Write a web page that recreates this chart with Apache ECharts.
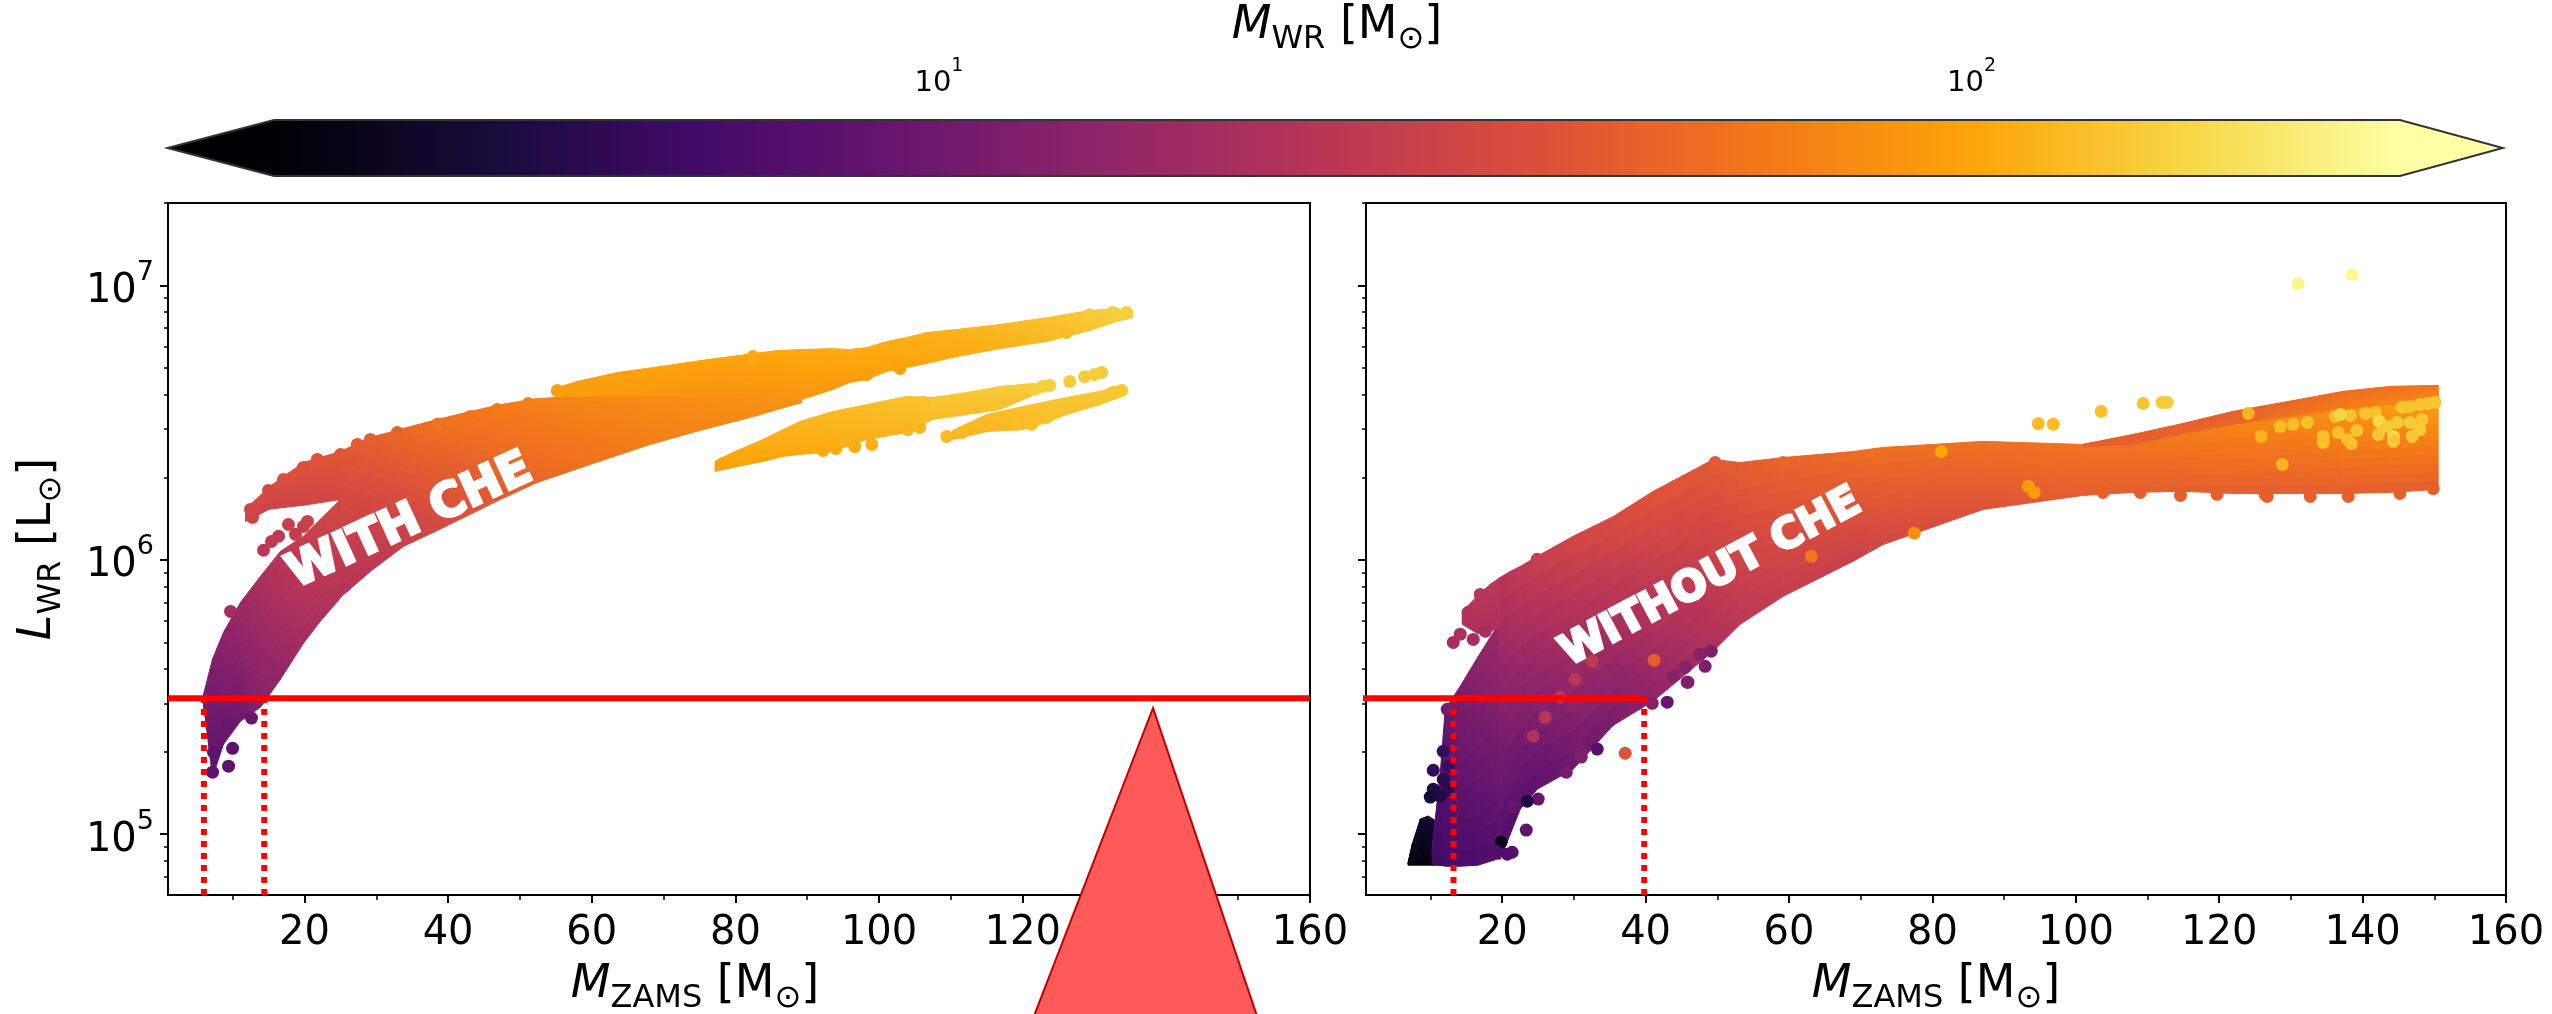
<!DOCTYPE html>
<html><head><meta charset="utf-8">
<script src="https://cdn.jsdelivr.net/npm/echarts@6/dist/echarts.min.js"></script>
<style>html,body{margin:0;padding:0;background:#fff}#c{width:2552px;height:1014px}</style>
</head><body><div id="c"></div>
<script>
// ---------- axis values ----------
const xRange = [1, 160];
const yRange = [6e4, 2e7];
const xMajor = [20, 40, 60, 80, 100, 120, 140, 160];
const xMinor = [10, 30, 50, 70, 90, 110, 130, 150];
const yMajor = [1e5, 1e6, 1e7];
const yMinor = [7e4, 8e4, 9e4, 2e5, 3e5, 4e5, 5e5, 6e5, 7e5, 8e5, 9e5, 2e6, 3e6, 4e6, 5e6, 6e6, 7e6, 8e6, 9e6, 2e7];
const cbRange = [2.27, 260];
const cbTips = [1.79, 327];
const cbMajor = [10, 100];
const cbMinor = [3, 4, 5, 6, 7, 8, 9, 20, 30, 40, 50, 60, 70, 80, 90, 200];
const inferno = ['#000004','#160b39','#420a68','#6a176e','#932667','#bc3754','#dd513a','#f37819','#fca50a','#f6d746','#fcffa4'];

// ---------- annotation values ----------
const cutLum = 3.13e5;
const cutLeftX = [6, 14.4];
const cutRightX = [13.2, 39.8];
const solidLeftX = [1, 160];
const solidRightX = [-6.8, 39.8];

// ---------- envelope of the dense point clouds: M_ZAMS, log L top, log L bottom, M_WR top, M_WR bottom ----------
const lMainX = [5.95,7.2,8.73,11.1,13.88,16.66,19.86,22.2,24.73,25,29.18,33.77,38.5,43.09,47.26,52.41,59.78,68.12,75.08,82.03,89.26];
const lMainT = [5.51,5.638,5.736,5.845,5.94,6.031,6.086,6.148,6.213,6.395,6.446,6.479,6.512,6.541,6.566,6.588,6.599,6.603,6.603,6.599,6.592];
const lMainB = [5.474,5.208,5.328,5.412,5.463,5.565,5.696,5.776,5.852,5.863,5.958,6.049,6.107,6.166,6.22,6.282,6.348,6.421,6.472,6.519,6.574];
const lMainMT = [11,12,14,17,20,24,28,31,34,42,47,53,58,62,65,70,74,78,80,82,84];
const lMainMB = [10,8,9,10,13,15,18,20,22,22,24,28,33,38,44,50,58,66,71,76,80];

const lLobeX = [11.8,12.5,15,17.08,19.86,25];
const lLobeT = [6.173,6.202,6.264,6.304,6.355,6.395];
const lLobeB = [6.14,6.148,6.184,6.191,6.199,6.22];
const lLobeMT = [32,33,36,38,40,42];
const lLobeMB = [30,30,30,31,31,33];

const lUpX = [55.19,57.97,63.53,68.54,76.05,81.61,85.79,89.26,93.57,95.94,98.3,101.08,103.87,106.65,110.82,116.8,123.34,129.32,133.07,135.3];
const lUpT = [6.628,6.65,6.683,6.701,6.73,6.749,6.763,6.767,6.77,6.767,6.774,6.796,6.811,6.829,6.84,6.858,6.883,6.909,6.916,6.902];
const lUpB = [6.596,6.596,6.599,6.599,6.596,6.592,6.588,6.585,6.621,6.647,6.658,6.687,6.701,6.716,6.741,6.77,6.796,6.836,6.869,6.883];
const lUpMT = [92,94,96,97,99,101,103,105,106,107,107,108,110,112,115,122,130,143,148,150];
const lUpMB = [92,92,90,88,83,84,84,86,90,92,94,98,100,102,106,112,122,135,142,146];

const lLowAX = [77.16,79.67,83.84,86.62,88.99,93.57,98.3,103.87,107.48,112.21,116.8,121.39];
const lLowAT = [6.359,6.392,6.439,6.475,6.505,6.541,6.566,6.596,6.592,6.61,6.632,6.643];
const lLowAB = [6.322,6.337,6.359,6.377,6.384,6.395,6.439,6.464,6.512,6.53,6.548,6.599];
const lLowAMT = [100,103,110,115,118,122,126,132,136,140,145,148];
const lLowAMB = [97,98,100,102,104,108,112,118,125,128,130,135];

const lLowBX = [110.26,114.99,120,123.34,126.12,130.71,133.91];
const lLowBT = [6.472,6.53,6.559,6.577,6.592,6.614,6.639];
const lLowBB = [6.439,6.468,6.475,6.501,6.53,6.566,6.596];
const lLowBMT = [118,125,130,135,138,140,142];
const lLowBMB = [115,118,122,126,130,134,138];

const rLumpX = [6.89,7.45,8.56,9.68,10.79,12.05];
const rLumpT = [4.898,4.964,5.055,5.066,5.047,4.945];
const rLumpB = [4.887,4.887,4.887,4.887,4.887,4.887];
const rLumpMT = [2.8,3,3.3,3.5,3.5,3.3];
const rLumpMB = [2.4,2.4,2.4,2.4,2.4,2.4];

const rMainX = [10.24,11.35,12.05,14.14,16.65,19.3,19.72,21.12,22.51,24.88,29.9,35.48,41.06,49.43,53.19,59.19,68.95,73.14,87.08,101.03,108,114.98,121.95,131.3,137.29,143.85,150.54];
const rMainT = [4.953,5.219,5.455,5.539,5.648,5.758,5.936,5.958,5.976,6.013,6.086,6.158,6.25,6.366,6.355,6.373,6.395,6.41,6.432,6.421,6.457,6.497,6.541,6.585,6.614,6.632,6.636];
const rMainB = [4.891,4.887,4.883,4.883,4.887,4.909,4.909,5,5.091,5.164,5.237,5.397,5.485,5.667,5.765,5.867,5.995,6.056,6.184,6.235,6.246,6.25,6.242,6.242,6.242,6.246,6.257];
const rMainMT = [7,7,9,12,14,17,23,25,26.5,29,33,37,41,44,46,50,55,57,58,59,62,70,78,85,95,105,105];
const rMainMB = [5.5,5.8,6,6.2,6.5,6.8,6.8,7,7.5,8,9.5,11,14,20,24,27,29,33,40,46,46,46,46,46,46,46,46];

const rLobeX = [14.42,16.51,18.33,19.72];
const rLobeT = [5.812,5.867,5.911,5.936];
const rLobeB = [5.765,5.732,5.74,5.754];
const rLobeMT = [22,23,24,24];
const rLobeMB = [20,20,20,21];

const rEdgeX = [101.03,108,114.98,121.95,131.3,137.29,143.85,150.54];
const rEdgeT = [6.421,6.457,6.497,6.541,6.585,6.614,6.632,6.636];
const rEdgeB = [6.413,6.421,6.461,6.494,6.53,6.548,6.566,6.577];
const rEdgeMT = [46,46,47,47,50,54,56,60];
const rEdgeMB = [46,47,48,50,60,66,72,75];

// ---------- individually visible points: M_ZAMS, log L, M_WR ----------
const leftPoints = [
[9.99,5.313,8],[9.43,5.248,8],[12.63,5.423,9],[7.2,5.226,8],[7.34,5.299,8],[9.71,5.812,19],[9.3,5.401,9],
[14.3,6.035,24],[15.41,6.067,25],[17.77,6.129,28],[20.42,6.14,30],[19.86,6.122,28],[18.75,6.093,27],[16.4,6.086,26],[12.77,6.155,31],[12.49,6.184,32],
[15,6.253,34],[17.08,6.293,36],[19.86,6.337,38],[21.8,6.366,40],[25,6.384,42],[27.37,6.421,44],
[29.18,6.439,46],[32.93,6.464,50],[38.5,6.494,58],[43.09,6.523,62],[46.84,6.548,65],[51.15,6.57,69],
[55.19,6.617,94],[134.47,6.902,150],[133.07,6.894,148],[98.3,6.676,95],[102.9,6.698,98],[126.12,6.829,125],
[82.45,6.741,104],[132.5,6.902,148],[129.32,6.894,146],[78.28,6.352,98],[99,6.421,110],[96.63,6.413,108],
[93.99,6.406,106],[92.18,6.399,104],[104,6.475,118],[105.67,6.483,120],[109.43,6.45,122],[111.52,6.464,125],
[119.17,6.494,128],[121.25,6.494,130],[123.34,6.519,132],[121.67,6.621,150],[122.78,6.632,148],[123.75,6.636,148],
[126.54,6.65,146],[128.62,6.668,146],[130.99,6.683,146],[130,6.676,146],[133.77,6.617,140],[132.52,6.61,140],[106.2,6.574,130]
];
const rightPoints = [
[103.8,6.246,47],[109,6.246,46],[114.6,6.235,47],[119.7,6.239,47],[126.4,6.239,47],[126.7,6.231,47],[132.7,6.231,47],[138,6.231,46],[145.2,6.242,47],[149.85,6.26,47],
[24.88,6.002,28],[49.7,6.355,44],[59.2,6.355,50],
[13.17,5.699,19],[14.14,5.729,20],[15.96,5.71,19],[17.63,5.74,19],[15.26,5.809,21],[15.8,5.776,21],[16.93,5.874,23],
[43.01,5.481,9],[45.8,5.554,11],[49.15,5.667,12],[47.6,5.656,13],[48.3,5.612,12],[45.9,5.554,12],[45.5,5.608,13],[43.85,5.576,13],[40.92,5.477,13],[38.83,5.477,13],
[33.25,5.31,7.5],[31.02,5.299,12],[31.02,5.281,12],[28.93,5.226,11],[25.02,5.128,9],[23.49,5.12,4],[21.53,5.098,9],[23.35,5.015,8],[19.86,4.971,3],[21.39,4.934,7.5],[19.02,4.938,7],[20.7,4.927,7],
[10.38,5.233,5],[11.77,5.302,5.2],[10.38,5.164,4],[9.96,5.135,3.5],[11.77,5.2,4.5],[11.35,5.138,4],[12.47,5.248,5.5],[12.47,5.164,4.5],[12.33,5.455,11],
[24.32,5.357,22],[26,5.426,23],[28.09,5.499,23],[30.18,5.565,24],[32.55,5.63,25],
[37.15,5.295,40],[41.2,5.634,45],[63.1,6.013,62],[77.46,6.097,80],[81.23,6.395,100],[93.36,6.268,90],[94.2,6.246,90],
[94.76,6.497,125],[96.85,6.494,125],[103.54,6.541,130],[109.4,6.57,135],[112.05,6.574,145],[112.75,6.574,145],
[124.05,6.534,115],[125.86,6.45,115],[128.8,6.348,115],[131.02,7.007,230],[138.55,7.04,240],
[128.5,6.486,125],[130.3,6.494,128],[132.3,6.501,130],[136.2,6.523,130],[138.3,6.526,132],[140.4,6.534,134],[141.8,6.537,130],[136.9,6.53,160],
[145.5,6.556,135],[146.6,6.559,135],[148,6.566,135],[149.1,6.57,138],[150.1,6.574,138],
[134.5,6.45,130],[134.5,6.428,130],[136.6,6.464,130],[139.2,6.472,135],[137.9,6.439,130],[138.4,6.424,130],[142.2,6.457,140],[142.3,6.505,165],
[144.3,6.45,165],[144.3,6.432,140],[146.9,6.45,140],[148.3,6.512,140],[148,6.475,145],[146.6,6.501,145],[144.8,6.501,145],[143.4,6.486,145]
];

// ---------- helpers ----------
const logMin = Math.log10(cbRange[0]), logMax = Math.log10(cbRange[1]);
function hex(c){return [1,3,5].map(i=>parseInt(c.substr(i,2),16));}
const infernoRGB = inferno.map(hex);
function massColor(m){
  let t=(Math.log10(m)-logMin)/(logMax-logMin); t=Math.max(0,Math.min(1,t));
  const p=t*(infernoRGB.length-1), i=Math.min(Math.floor(p),infernoRGB.length-2), f=p-i;
  const a=infernoRGB[i], b=infernoRGB[i+1];
  return 'rgb('+[0,1,2].map(k=>Math.round(a[k]+(b[k]-a[k])*f)).join(',')+')';
}
const SLICES = 12;
function strip(name, axis, X, T, B, MT, MB){
  const rows = X.map((x,i)=>[x, Math.pow(10,T[i]), Math.pow(10,B[i]), MT[i], MB[i]]);
  return {
    name, type:'custom', xAxisIndex:axis, yAxisIndex:axis, coordinateSystem:'cartesian2d',
    data: rows, encode:{x:0,y:[1,2]}, silent:true, progressive:0, animation:false, z:2,
    renderItem(params, api){
      const i=params.dataIndex;
      if(i>=rows.length-1) return {type:'group',children:[]};
      const a=rows[i], b=rows[i+1];
      const at=api.coord([a[0],a[1]]), ab=api.coord([a[0],a[2]]);
      const bt=api.coord([b[0],b[1]]), bb=api.coord([b[0],b[2]]);
      const children=[];
      for(let k=0;k<SLICES;k++){
        const f0=k/SLICES, f1=(k+1)/SLICES, fm=(k+.5)/SLICES;
        const ma=Math.pow(10,Math.log10(a[3])*(1-fm)+Math.log10(a[4])*fm);
        const mb=Math.pow(10,Math.log10(b[3])*(1-fm)+Math.log10(b[4])*fm);
        const g=new echarts.graphic.LinearGradient(at[0],0,Math.max(bt[0],at[0]+.01),0,
          [{offset:0,color:massColor(ma)},{offset:1,color:massColor(mb)}],true);
        children.push({type:'polygon',silent:true,
          shape:{points:[
            [at[0],at[1]+(ab[1]-at[1])*f0],[bt[0],bt[1]+(bb[1]-bt[1])*f0],
            [bt[0],bt[1]+(bb[1]-bt[1])*f1],[at[0],at[1]+(ab[1]-at[1])*f1]]},
          style:{fill:g,stroke:g,lineWidth:1}});
      }
      return {type:'group',children};
    }
  };
}
function points(name, axis, list){
  return {name,type:'scatter',xAxisIndex:axis,yAxisIndex:axis,symbol:'circle',symbolSize:13,silent:true,z:3,animation:false,
    data:list.map(p=>[p[0],Math.pow(10,p[1]),p[2]]),
    itemStyle:{opacity:1,color:p=>massColor(p.value[2])}};
}
function redLine(name, axis, data, dotted){
  return {name,type:'line',xAxisIndex:axis,yAxisIndex:axis,data,symbol:'none',clip:false,silent:true,animation:false,z:dotted?4:5,
    lineStyle:{color:'#ff0000',width:6,type:dotted?[6,6]:'solid',cap:'butt'}};
}
const FONT='"DejaVu Sans"';
const nameRich=(big,sub)=>({
  i:{fontFamily:FONT,fontStyle:'italic',fontSize:big,lineHeight:big+14,verticalAlign:'middle'},
  s:{fontFamily:FONT,fontSize:sub,lineHeight:big+14,verticalAlign:'bottom'},
  n:{fontFamily:FONT,fontSize:big,lineHeight:big+14,verticalAlign:'middle'},
  o:{fontFamily:FONT,fontSize:sub,lineHeight:big+14,verticalAlign:'bottom'}
});
const powFmt=v=>'{a|10}{b|'+Math.round(Math.log10(v))+'}';
const powRich=(a,b)=>({
  a:{fontFamily:FONT,fontSize:a,color:'#000',lineHeight:a+12,verticalAlign:'bottom'},
  b:{fontFamily:FONT,fontSize:b,color:'#000',lineHeight:a+12,verticalAlign:'top'}
});
function xMajorAxis(grid,name,pad){return {type:'value',gridIndex:grid,min:xRange[0],max:xRange[1],position:'bottom',
  splitLine:{show:false},axisLine:{show:false},
  axisTick:{show:true,customValues:xMajor,length:8,lineStyle:{color:'#000',width:2}},
  axisLabel:{show:true,customValues:xMajor,margin:19,fontFamily:FONT,fontSize:40,color:'#000',formatter:v=>String(v)},
  name,nameLocation:'middle',nameGap:60,nameTextStyle:{color:'#000',padding:pad,rich:nameRich(46,32)}};}
function xMinorAxis(grid){return {type:'value',gridIndex:grid,min:xRange[0],max:xRange[1],position:'bottom',
  splitLine:{show:false},axisLine:{show:false},axisLabel:{show:false},
  axisTick:{show:true,customValues:xMinor,length:5,lineStyle:{color:'#000',width:1.5}}};}
function yMajorAxis(grid,labels,name){return {type:'log',logBase:10,gridIndex:grid,min:yRange[0],max:yRange[1],position:'left',
  splitLine:{show:false},minorTick:{show:false},axisLine:{show:false},
  axisTick:{show:true,customValues:yMajor,length:8,lineStyle:{color:'#000',width:2}},
  axisLabel:{show:labels,customValues:yMajor,margin:14,formatter:powFmt,rich:powRich(40,27)},
  name,nameLocation:'middle',nameGap:100,nameTextStyle:{color:'#000',rich:nameRich(46,32)}};}
function yMinorAxis(grid){return {type:'log',logBase:10,gridIndex:grid,min:yRange[0],max:yRange[1],position:'left',
  splitLine:{show:false},minorTick:{show:false},axisLine:{show:false},axisLabel:{show:false},
  axisTick:{show:true,customValues:yMinor,length:4,lineStyle:{color:'#000',width:1.5}}};}

const option={
  backgroundColor:'#fff',animation:false,
  grid:[
    {left:168,width:1142,top:203,height:692,show:true,borderColor:'#000',borderWidth:2,backgroundColor:'transparent',containLabel:false,outerBoundsMode:'none'},
    {left:1366,width:1140,top:203,height:692,show:true,borderColor:'#000',borderWidth:2,backgroundColor:'transparent',containLabel:false,outerBoundsMode:'none'},
    {left:274,width:2126,top:120,height:56,show:false,containLabel:false,outerBoundsMode:'none'}
  ],
  xAxis:[
    xMajorAxis(0,'{i|M}{s|ZAMS}{n| [M}{o|⊙}{n|]}',[0,88,0,0]),xMinorAxis(0),
    xMajorAxis(1,'{i|M}{s|ZAMS}{n| [M}{o|⊙}{n|]}',0),xMinorAxis(1),
    {type:'log',logBase:10,gridIndex:2,min:cbRange[0],max:cbRange[1],position:'top',splitLine:{show:false},axisLine:{show:false},minorTick:{show:false},
      axisTick:{show:true,customValues:cbMajor,length:18,lineStyle:{color:'#000',width:2}},
      axisLabel:{show:true,customValues:cbMajor,margin:22,formatter:powFmt,rich:powRich(29,19)},
      name:'{i|M}{s|WR}{n| [M}{o|⊙}{n|]}',nameLocation:'middle',nameGap:53,nameTextStyle:{color:'#000',rich:nameRich(46,32)}},
    {type:'log',logBase:10,gridIndex:2,min:cbRange[0],max:cbRange[1],position:'top',splitLine:{show:false},axisLine:{show:false},minorTick:{show:false},axisLabel:{show:false},
      axisTick:{show:true,customValues:cbMinor,length:10,lineStyle:{color:'#000',width:1.5}}}
  ],
  yAxis:[
    yMajorAxis(0,true,'{i|L}{s|WR}{n| [L}{o|⊙}{n|]}'),yMinorAxis(0),
    yMajorAxis(1,false,''),yMinorAxis(1),
    {type:'value',gridIndex:2,min:0,max:1,show:false},
    {type:'value',gridIndex:2,min:0,max:1,show:false}
  ],
  series:[
    strip('with CHE main',0,lMainX,lMainT,lMainB,lMainMT,lMainMB),
    strip('with CHE lobe',0,lLobeX,lLobeT,lLobeB,lLobeMT,lLobeMB),
    strip('with CHE upper',0,lUpX,lUpT,lUpB,lUpMT,lUpMB),
    strip('with CHE low A',0,lLowAX,lLowAT,lLowAB,lLowAMT,lLowAMB),
    strip('with CHE low B',0,lLowBX,lLowBT,lLowBB,lLowBMT,lLowBMB),
    strip('without CHE lump',2,rLumpX,rLumpT,rLumpB,rLumpMT,rLumpMB),
    strip('without CHE main',2,rMainX,rMainT,rMainB,rMainMT,rMainMB),
    strip('without CHE lobe',2,rLobeX,rLobeT,rLobeB,rLobeMT,rLobeMB),
    strip('without CHE edge',2,rEdgeX,rEdgeT,rEdgeB,rEdgeMT,rEdgeMB),
    points('with CHE points',0,leftPoints),
    points('without CHE points',2,rightPoints),
    redLine('cut left a',0,[[cutLeftX[0],yRange[0]],[cutLeftX[0],cutLum]],true),
    redLine('cut left b',0,[[cutLeftX[1],yRange[0]],[cutLeftX[1],cutLum]],true),
    redLine('cut right a',2,[[cutRightX[0],yRange[0]],[cutRightX[0],cutLum]],true),
    redLine('cut right b',2,[[cutRightX[1],yRange[0]],[cutRightX[1],cutLum]],true),
    redLine('luminosity left',0,[[solidLeftX[0],cutLum],[solidLeftX[1],cutLum]],false),
    redLine('luminosity right',2,[[solidRightX[0],cutLum],[solidRightX[1],cutLum]],false),
    {name:'colorbar',type:'custom',xAxisIndex:4,yAxisIndex:4,coordinateSystem:'cartesian2d',clip:false,silent:true,animation:false,z:2,
      data:[[cbRange[0],cbRange[1],cbTips[0],cbTips[1]]],encode:{x:[0,1]},
      renderItem(params,api){
        const tl=api.coord([api.value(0),1]),br=api.coord([api.value(1),0]);
        const tipL=api.coord([api.value(2),.5]),tipR=api.coord([api.value(3),.5]);
        const pts=[tipL,tl,[br[0],tl[1]],tipR,br,[tl[0],br[1]]];
        const stops=[{offset:0,color:inferno[0]}];
        const w=tipR[0]-tipL[0],a=(tl[0]-tipL[0])/w,b=(br[0]-tipL[0])/w;
        inferno.forEach((c,i)=>stops.push({offset:a+(b-a)*i/(inferno.length-1),color:c}));
        stops.push({offset:1,color:inferno[inferno.length-1]});
        return {type:'polygon',shape:{points:pts},silent:true,
          style:{fill:new echarts.graphic.LinearGradient(tipL[0],0,tipR[0],0,stops,true),stroke:'#333',lineWidth:2}};
      }}
  ],
  graphic:[
    {type:'text',z:50,x:410,y:522,rotation:24.7*Math.PI/180,silent:true,
      style:{text:'WITH CHE',fill:'#fff',stroke:'#fff',lineWidth:3,fontFamily:FONT,fontWeight:'bold',fontSize:47,align:'center',verticalAlign:'middle'}},
    {type:'text',z:50,x:1711,y:578,rotation:28*Math.PI/180,silent:true,
      style:{text:'WITHOUT CHE',fill:'#fff',stroke:'#fff',lineWidth:3,fontFamily:FONT,fontWeight:'bold',fontSize:42,align:'center',verticalAlign:'middle'}},
    {type:'polygon',z:100,silent:true,shape:{points:[[1153,708],[1034,1016],[1257,1016]]},
      style:{fill:'#ff5a5a',stroke:'#c00000',lineWidth:2}}
  ]
};
const chart=echarts.init(document.getElementById('c'),null,{renderer:'canvas'});
chart.setOption(option);
</script></body></html>
